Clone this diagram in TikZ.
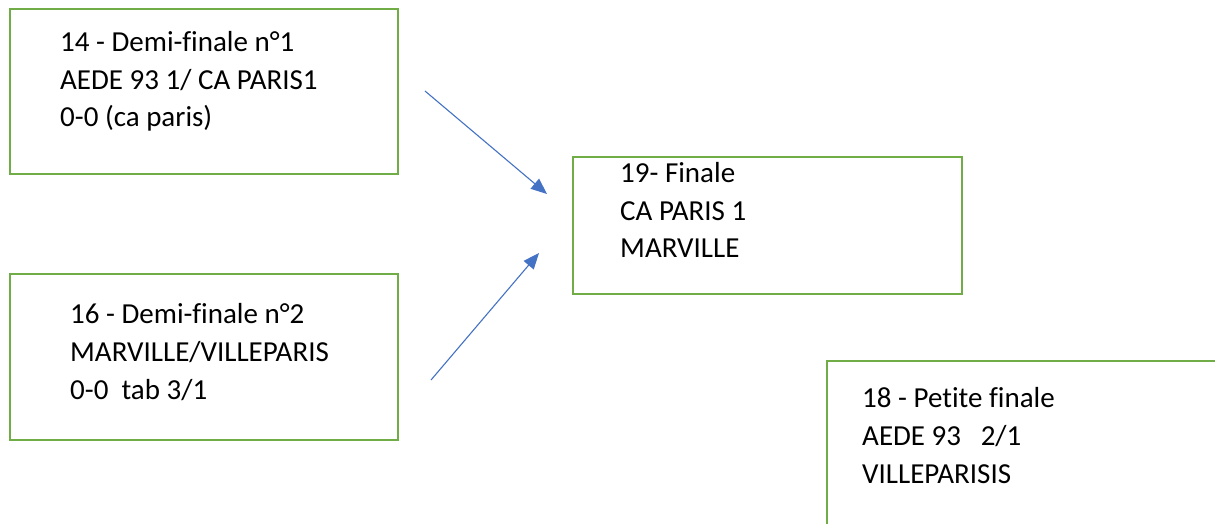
\documentclass[tikz,border=0pt]{standalone}
\usepackage{fontspec}
\setmainfont{Carlito}[Ligatures=CommonOff]
\usetikzlibrary{arrows.meta}
\definecolor{boxgreen}{HTML}{70AD47}
\definecolor{arrowblue}{HTML}{4472C4}
\tikzset{
  gbox/.style={draw=boxgreen, line width=2.4pt, fill=none},
  txt/.style={anchor=base west, inner sep=0pt, font=\fontsize{29}{37.5}\selectfont, text=black},
  conn/.style={draw=arrowblue, line width=1.1pt, -{Triangle[length=16pt,width=13pt]}}
}
\begin{document}
\begin{tikzpicture}[x=1pt,y=-1pt]
\useasboundingbox (0,0) rectangle (1215,523);
\clip (0,0) rectangle (1215,523);
\fill[white] (0,0) rectangle (1215,523);
% boxes
\draw[gbox] (10,9) rectangle (398,174);
\draw[gbox] (10,274) rectangle (398,440);
\draw[gbox] (573,157) rectangle (962,294);
\draw[gbox] (827,361) rectangle (1235,545);
% texts
\node[txt] (a1) at (60,51) {14 - Demi-finale n°1};
\node[txt] (a2) at (60,89) {AEDE 93 1/ CA PARIS1};
\node[txt] (a3) at (60,126) {0-0 (ca paris)};
\node[txt] (b1) at (70,323) {16 - Demi-finale n°2};
\node[txt] (b2) at (70,361) {MARVILLE/VILLEPARIS};
\node[txt] (b3) at (70,399) {0-0\ \ tab 3/1};
\node[txt] (c1) at (620,182) {19- Finale};
\node[txt] (c2) at (620,220) {CA PARIS 1};
\node[txt] (c3) at (620,257) {MARVILLE};
\node[txt] (d1) at (862,407) {18 - Petite finale};
\node[txt] (d2) at (862,445) {AEDE 93\ \ \ 2/1};
\node[txt] (d3) at (862,483) {VILLEPARISIS};
% arrows
\coordinate (s1) at (425,91);
\coordinate (e1) at (547,194);
\coordinate (s2) at (431,380);
\coordinate (e2) at (539,253);
\draw[conn] (s1) -- (e1);
\draw[conn] (s2) -- (e2);
\end{tikzpicture}
\end{document}
